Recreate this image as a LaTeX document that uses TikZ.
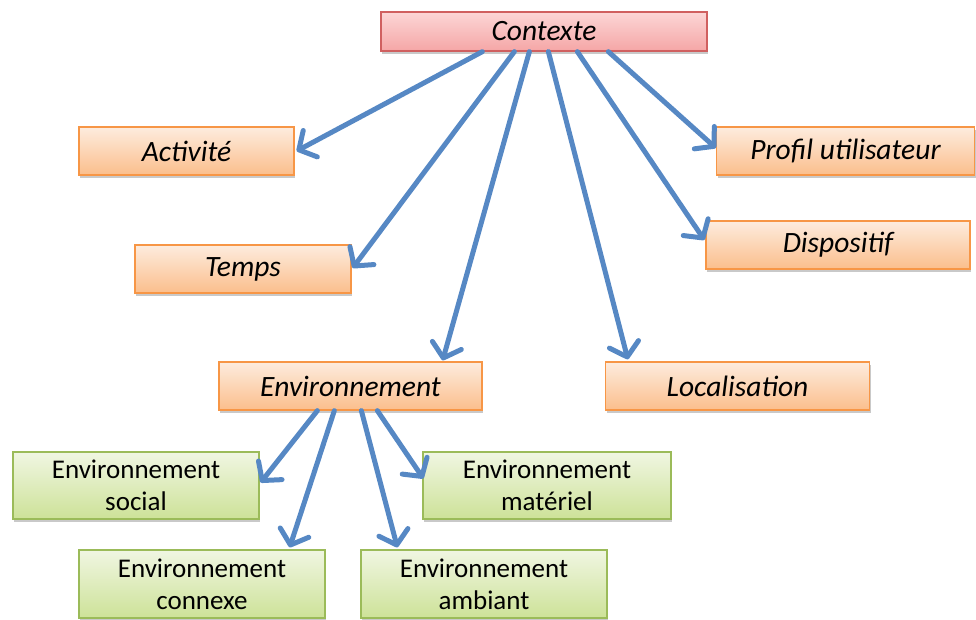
\documentclass[tikz,border=0pt]{standalone}
\usepackage{fontspec}
\setmainfont{Carlito}
\usetikzlibrary{arrows.meta,shadows,calc}
\definecolor{arr}{RGB}{86,136,196}
\definecolor{redB}{RGB}{208,96,96}
\definecolor{redT}{RGB}{252,214,214}
\definecolor{redM}{RGB}{245,166,166}
\definecolor{oraB}{RGB}{247,150,70}
\definecolor{oraT}{RGB}{253,236,222}
\definecolor{oraM}{RGB}{251,190,140}
\definecolor{grnB}{RGB}{155,187,89}
\definecolor{grnT}{RGB}{240,246,226}
\definecolor{grnM}{RGB}{205,226,152}
\begin{document}
\begin{tikzpicture}[x=1pt,y=-1pt,
  box/.style={rectangle, inner sep=0pt, line width=1.3pt, align=center,
    drop shadow={shadow xshift=1pt,shadow yshift=-3pt,opacity=0.3,fill=black!70}},
  redbox/.style={box, draw=redB, top color=redT, bottom color=redM,
    font=\fontsize{29.5}{32}\selectfont\itshape, minimum width=326pt, minimum height=39pt},
  orabox/.style={box, draw=oraB, top color=oraT, bottom color=oraM,
    font=\fontsize{29.5}{32}\selectfont\itshape, minimum height=48pt},
  grnbox/.style={box, draw=grnB, top color=grnT, bottom color=grnM,
    font=\fontsize{27}{32}\selectfont, minimum width=246pt, minimum height=67pt},
  link/.style={draw=arr, line width=5pt, line cap=round, line join=round,
    -{Straight Barb[length=13pt,width=30pt,line cap=round,line join=round]}}
]
\useasboundingbox (0,0) rectangle (976,619);

\node[redbox] (ctx) at (544,31.5) {Contexte};
\node[orabox, minimum width=215pt] (act) at (186.5,151) {Activité};
\node[orabox, minimum width=216pt] (temps) at (243,269) {Temps};
\node[orabox, minimum width=263pt] (env) at (350.5,386) {Environnement};
\node[orabox, minimum width=264pt] (loc) at (737.5,386) {Localisation};
\node[orabox, minimum width=258pt] (prof) at (845.5,151) {Profil utilisateur};
\node[orabox, minimum width=264pt] (disp) at (838,245) {Dispositif};
\node[grnbox] (social) at (136,485.5) {Environnement\\social};
\node[grnbox, minimum width=248pt] (mat) at (547,485.5) {Environnement\\matériel};
\node[grnbox, minimum height=68pt] (connexe) at (202,584) {Environnement\\connexe};
\node[grnbox, minimum height=68pt] (ambiant) at (484,584) {Environnement\\ambiant};

\draw[link] ($(ctx.south west)+(102,0)$) -- ($(act.east)+(2,0)$);
\draw[link] ($(ctx.south west)+(134,0)$) -- ($(temps.east)+(1,-1)$);
\draw[link] ($(ctx.south west)+(149,0)$) -- ($(env.north east)+(-40,-1)$);
\draw[link] ($(ctx.south west)+(168,0)$) -- ($(loc.north west)+(23,-2)$);
\draw[link] ($(ctx.south west)+(197,0)$) -- ($(disp.west)+(-1,-5)$);
\draw[link] ($(ctx.south west)+(228,0)$) -- ($(prof.west)+(0,-3)$);

\draw[link] ($(env.south west)+(99,0)$) -- ($(social.east)+(1,-3)$);
\draw[link] ($(env.south west)+(116,0)$) -- ($(connexe.north east)+(-36,-2)$);
\draw[link] ($(env.south west)+(143,0)$) -- ($(ambiant.north west)+(37,-2)$);
\draw[link] ($(env.south west)+(159,0)$) -- ($(mat.west)+(1,-7)$);
\end{tikzpicture}
\end{document}
